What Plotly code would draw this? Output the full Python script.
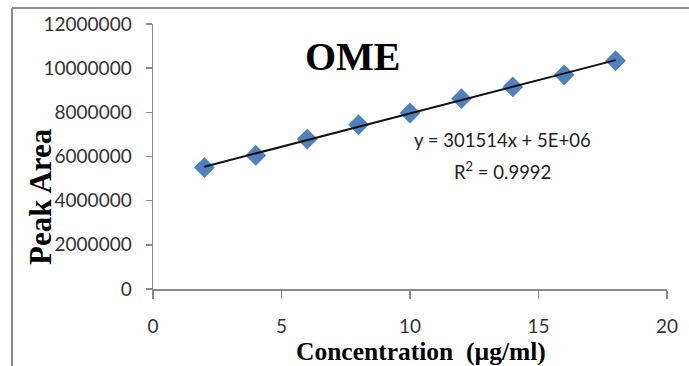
import numpy as np
import plotly.graph_objects as go

# Data
concentration = [2, 4, 6, 8, 10, 12, 14, 16, 18]
peak_area = [5500000, 6050000, 6790000, 7440000, 7970000, 8620000, 9150000, 9700000, 10340000]
x_ticks = [0, 5, 10, 15, 20]
y_ticks = [0, 2000000, 4000000, 6000000, 8000000, 10000000, 12000000]
title_text = "OME"
x_title = "Concentration  (µg/ml)"
y_title = "Peak Area"
eq_text = "y = 301514x + 5E+06"
r2_text = "R<sup>2</sup> = 0.9992"

# Linear trendline from data
slope, intercept = np.polyfit(concentration, peak_area, 1)
trend_x = [min(concentration), max(concentration)]
trend_y = [slope * v + intercept for v in trend_x]

W, H = 689, 366
L, R, T, B = 153, 22, 24, 77

fig = go.Figure()
fig.add_trace(go.Scatter(
    x=concentration, y=peak_area, mode="markers",
    marker=dict(symbol="diamond", size=16, color="#4F81BD"),
    showlegend=False, hoverinfo="skip", cliponaxis=False))
fig.add_trace(go.Scatter(
    x=trend_x, y=trend_y, mode="lines",
    line=dict(color="#111111", width=2),
    showlegend=False, hoverinfo="skip"))

tickfont = dict(family="Lato, Open Sans, sans-serif", size=19, color="#333333")
fig.update_layout(
    width=W, height=H,
    margin=dict(l=L, r=R, t=T, b=B, autoexpand=False),
    paper_bgcolor="white", plot_bgcolor="white",
    xaxis=dict(range=[0, 20], tickvals=x_ticks, showgrid=False, zeroline=False,
               showline=True, linecolor="#8a8a8a", linewidth=1.5, automargin=False,
               ticks="outside", ticklen=8, tickcolor="#8a8a8a", tickwidth=1.5,
               tickfont=tickfont, ticklabelstandoff=12),
    yaxis=dict(range=[0, 12000000], tickvals=y_ticks, tickformat="d",
               showgrid=False, zeroline=False, automargin=False,
               showline=True, linecolor="#8a8a8a", linewidth=1.5,
               ticks="outside", ticklen=6, tickcolor="#8a8a8a", tickwidth=1.5,
               tickfont=tickfont, ticklabelstandoff=10),
)

serif = "Liberation Serif, Times New Roman, serif"
def px2paper(px, py):
    return (px - L) / (W - L - R), (H - B - py) / (H - T - B)

anns = []
x0, y0 = px2paper(353, 57)
anns.append(dict(x=x0, y=y0, text="<b>%s</b>" % title_text, font=dict(family=serif, size=40, color="black")))
x0, y0 = px2paper(502, 140)
anns.append(dict(x=x0, y=y0, text=eq_text, font=dict(family="Lato, Open Sans, sans-serif", size=18.5, color="#222")))
x0, y0 = px2paper(502, 170)
anns.append(dict(x=x0, y=y0, text=r2_text, font=dict(family="Lato, Open Sans, sans-serif", size=18.5, color="#222")))
x0, y0 = px2paper(421, 351)
anns.append(dict(x=x0, y=y0, text="<b>%s</b>" % x_title, font=dict(family=serif, size=25.5, color="black")))
x0, y0 = px2paper(40, 197)
anns.append(dict(x=x0, y=y0, text="<b>%s</b>" % y_title, textangle=-90, font=dict(family=serif, size=31, color="black")))
for a in anns:
    a.update(xref="paper", yref="paper", showarrow=False, xanchor="center", yanchor="middle")
fig.update_layout(annotations=anns)

# outer frame lines (top and left)
fx0, fy0 = px2paper(12, 8)
fx1, _ = px2paper(689, 8)
_, fyb = px2paper(12, 366)
fig.add_shape(type="line", xref="paper", yref="paper", x0=fx0, y0=fy0, x1=fx1, y1=fy0,
              line=dict(color="#8c8c8c", width=2))
fig.add_shape(type="line", xref="paper", yref="paper", x0=fx0, y0=fy0, x1=fx0, y1=fyb,
              line=dict(color="#8c8c8c", width=2))

# write page with zero body margin, plotly.js inline
div = fig.to_html(full_html=False, include_plotlyjs=True,
                  config={"displayModeBar": False, "staticPlot": True})
html = ("<!DOCTYPE html><html><head><meta charset='utf-8'>"
        "<style>html,body{margin:0;padding:0;overflow:hidden;background:white;}</style>"
        "</head><body>" + div + "</body></html>")
with open("out.html", "w", encoding="utf-8") as f:
    f.write(html)
